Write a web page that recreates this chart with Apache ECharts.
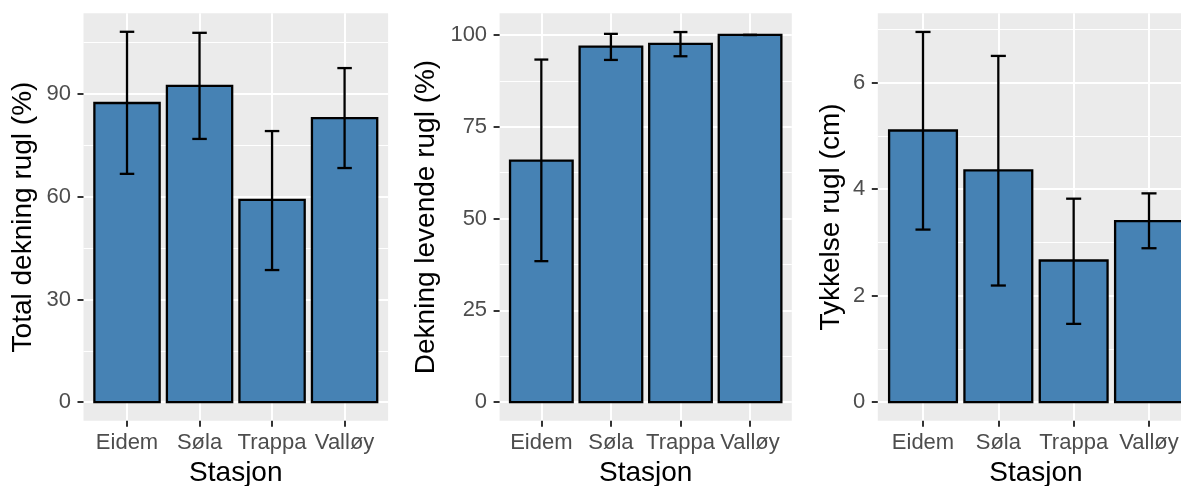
<!DOCTYPE html>
<html>
<head>
<meta charset="utf-8">
<script src="https://cdn.jsdelivr.net/npm/echarts@6/dist/echarts.min.js"></script>
<style>html,body{margin:0;padding:0;background:#fff}#c{width:1181px;height:486px}</style>
</head>
<body>
<div id="c"></div>
<script>
const categories = ['Eidem', 'Søla', 'Trappa', 'Valløy'];
const xPositions = [1, 2, 3, 4];

const totalMean = [87.4, 92.4, 59.1, 83.0];
const totalLow  = [66.7, 76.9, 38.6, 68.4];
const totalHigh = [108.2, 107.9, 79.2, 97.6];

const liveMean = [65.8, 96.8, 97.6, 100];
const liveLow  = [38.4, 93.2, 94.2, 100];
const liveHigh = [93.3, 100.3, 100.8, 100];

const thickMean = [5.10, 4.35, 2.66, 3.40];
const thickLow  = [3.24, 2.19, 1.47, 2.89];
const thickHigh = [6.95, 6.50, 3.82, 3.92];

const totalTicks = [0, 30, 60, 90];
const totalMinor = [15, 45, 75, 105];
const liveTicks = [0, 25, 50, 75, 100];
const liveMinor = [12.5, 37.5, 62.5, 87.5];
const thickTicks = [0, 2, 4, 6];
const thickMinor = [1, 3, 5, 7];

const yTitles = ['Total dekning rugl (%)', 'Dekning levende rugl (%)', 'Tykkelse rugl (cm)'];
const xTitle = 'Stasjon';

const FONT = "'Liberation Sans', Arial, Helvetica, sans-serif";

const panels = [
  {mean: totalMean, low: totalLow, high: totalHigh, ticks: totalTicks, minor: totalMinor,
   ymin: -5.41, ymax: 113.6, left: 83.5, width: 304.6, nameGap: 46},
  {mean: liveMean, low: liveLow, high: liveHigh, ticks: liveTicks, minor: liveMinor,
   ymin: -5.05, ymax: 105.9, left: 499.6, width: 292.2, nameGap: 59},
  {mean: thickMean, low: thickLow, high: thickHigh, ticks: thickTicks, minor: thickMinor,
   ymin: -0.3475, ymax: 7.30, left: 877.8, width: 316.4, nameGap: 33}
];

const grids = [], xAxes = [], yAxes = [], series = [];

panels.forEach((p, i) => {
  grids.push({
    left: p.left, top: 13.3, width: p.width, height: 407.4,
    show: true, backgroundColor: '#EBEBEB', borderWidth: 0, containLabel: false,
    outerBoundsMode: 'none'
  });
  xAxes.push({
    type: 'value', gridIndex: i, min: 0.4, max: 4.6,
    name: xTitle, nameLocation: 'middle', nameGap: 39,
    nameTextStyle: {fontFamily: FONT, fontSize: 28, color: '#000'},
    axisLine: {show: false, onZero: false},
    axisTick: {show: true, length: 6, customValues: xPositions, lineStyle: {color: '#333', width: 2}},
    axisLabel: {show: true, margin: 11, customValues: xPositions, fontFamily: FONT, fontSize: 22, color: '#4D4D4D',
      formatter: v => categories[Math.round(v) - 1] || ''},
    splitLine: {show: true, lineStyle: {color: '#FFFFFF', width: 2}}
  });
  yAxes.push({
    type: 'value', gridIndex: i, min: p.ymin, max: p.ymax, position: 'left',
    name: yTitles[i], nameLocation: 'middle', nameGap: p.nameGap,
    nameTextStyle: {fontFamily: FONT, fontSize: 28, color: '#000'},
    axisLine: {show: false, onZero: false},
    axisTick: {show: true, length: 6, customValues: p.ticks, lineStyle: {color: '#333', width: 2}},
    axisLabel: {show: true, margin: 12.5, customValues: p.ticks, fontFamily: FONT, fontSize: 22, color: '#4D4D4D'},
    splitLine: {show: true, lineStyle: {color: '#FFFFFF', width: 2}}
  });
  yAxes.push({
    type: 'value', gridIndex: i, min: p.ymin, max: p.ymax, position: 'right',
    axisLine: {show: false, onZero: false},
    axisTick: {show: false, customValues: p.minor},
    axisLabel: {show: false, customValues: p.minor},
    splitLine: {show: true, lineStyle: {color: '#FFFFFF', width: 1}}
  });
  const yMain = i * 2;
  series.push({
    type: 'custom', xAxisIndex: i, yAxisIndex: yMain,
    data: xPositions.map((x, k) => [x, p.mean[k]]),
    renderItem: (params, api) => {
      const x = api.value(0), v = api.value(1);
      const tl = api.coord([x - 0.45, v]);
      const br = api.coord([x + 0.45, 0]);
      return {type: 'rect', shape: {x: tl[0], y: tl[1], width: br[0] - tl[0], height: br[1] - tl[1]},
        style: {fill: '#4682B4', stroke: '#000', lineWidth: 2.3}};
    },
    z: 3
  });
  series.push({
    type: 'custom', xAxisIndex: i, yAxisIndex: yMain,
    data: xPositions.map((x, k) => [x, p.low[k], p.high[k]]),
    renderItem: (params, api) => {
      const x = api.value(0), lo = api.value(1), hi = api.value(2);
      const top = api.coord([x, hi]);
      const bot = api.coord([x, lo]);
      const hw = api.size([0.2, 0])[0] / 2;
      const st = {stroke: '#000', lineWidth: 2.3, fill: null};
      return {type: 'group', children: [
        {type: 'line', shape: {x1: top[0], y1: top[1], x2: bot[0], y2: bot[1]}, style: st},
        {type: 'line', shape: {x1: top[0] - hw, y1: top[1], x2: top[0] + hw, y2: top[1]}, style: st},
        {type: 'line', shape: {x1: bot[0] - hw, y1: bot[1], x2: bot[0] + hw, y2: bot[1]}, style: st}
      ]};
    },
    z: 4
  });
});

const chart = echarts.init(document.getElementById('c'), null, {renderer: 'canvas'});
chart.setOption({
  animation: false,
  backgroundColor: '#FFFFFF',
  grid: grids, xAxis: xAxes, yAxis: yAxes, series: series
});
</script>
</body>
</html>
